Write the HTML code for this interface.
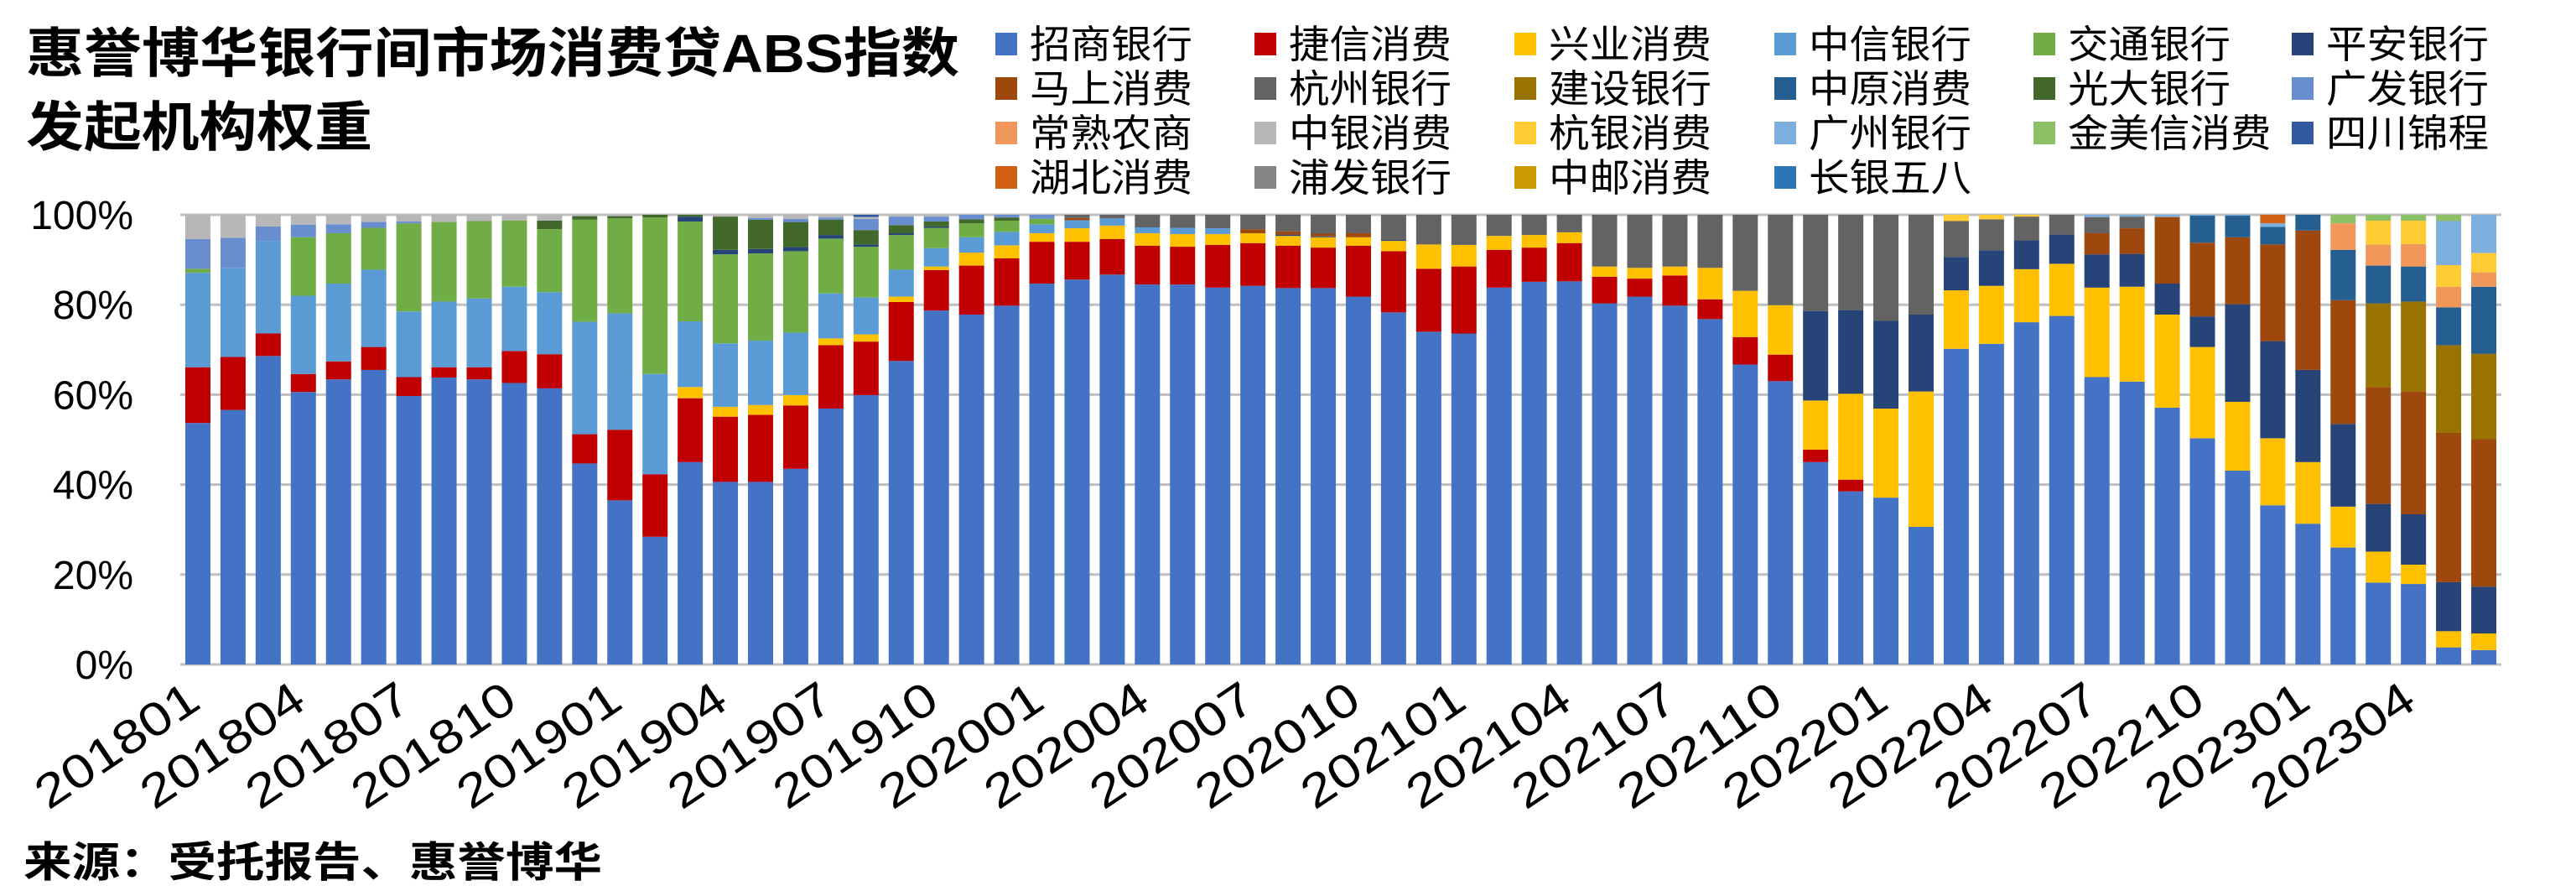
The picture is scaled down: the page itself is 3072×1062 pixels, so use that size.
<!DOCTYPE html>
<html><head><meta charset="utf-8"><style>
html,body{margin:0;padding:0;background:#fff;}
svg{display:block;}
text{font-family:"Liberation Sans","Noto Sans CJK SC",sans-serif;}
</style></head><body>
<svg id="chart" width="3072" height="1062" viewBox="0 0 3072 1062" xmlns="http://www.w3.org/2000/svg">
<rect x="0" y="0" width="3072" height="1062" fill="#fff"/>
<g font-weight="bold" fill="#000">
<text x="31" y="86" font-size="64" textLength="1113" lengthAdjust="spacingAndGlyphs">惠誉博华银行间市场消费贷ABS指数</text>
<text x="31" y="174" font-size="64" textLength="413" lengthAdjust="spacingAndGlyphs">发起机构权重</text>
</g>
<g id="legend"></g>
<g id="grid"></g>
<g id="yaxis"></g>
<g id="bars"></g>
<g id="xaxis"></g>
<text x="28" y="1045" font-size="50" font-weight="bold" textLength="690" lengthAdjust="spacingAndGlyphs">来源：受托报告、惠誉博华</text>
</svg>
<script>
const months = [];
for (let y = 2018; y <= 2023; y++) for (let m = 1; m <= 12; m++) { if (y === 2023 && m > 6) break; months.push(String(y) + String(m).padStart(2, '0')); }
const seriesNames = ["招商银行","捷信消费","兴业消费","中信银行","交通银行","平安银行","马上消费","杭州银行","建设银行","中原消费","光大银行","广发银行","常熟农商","中银消费","杭银消费","广州银行","金美信消费","四川锦程","湖北消费","浦发银行","中邮消费","长银五八"];
const seriesColors = ["#4472C4","#C00000","#FFC000","#5B9BD5","#70AD47","#264478","#9E480E","#636363","#997300","#255E91","#43682B","#698ED0","#F1975A","#B7B7B7","#FFCD33","#7CAFDD","#8CC168","#335AA1","#D26012","#848484","#CC9A00","#2E75B6"];
const yTicks = [0,20,40,60,80,100];
const zs = [53.7,56.6,68.6,60.6,63.4,65.5,59.7,63.8,63.4,62.6, 61.4,44.7,36.5,28.4,45.0,40.6,40.6,43.5,56.9,59.9, 67.5,78.7,77.8,79.8,84.7,85.6,86.7,84.5,84.5,83.8, 84.2,83.7,83.7,81.8,78.3,74.0,73.6,83.8,85.1,85.2, 80.3,81.8,79.8,76.8,66.7,63.0,45.0,38.5,37.1,30.6, 70.2,71.3,76.1,77.5,63.9,62.9,57.1,50.3,43.1,35.4, 31.3,26.0,18.2,17.9,3.8,3.2];
const jx = [12.4,11.8,5.0,4.0,4.0,5.1,4.2,2.3,2.7,7.1, 7.6,6.5,15.7,13.9,14.2,14.5,14.9,14.1,14.1,11.9, 13.1,9.0,10.9,10.5,9.3,8.4,7.9,8.6,8.4,9.5, 9.5,9.4,9.0,11.3,13.6,14.0,14.9,8.4,7.6,8.5, 5.9,4.0,6.7,4.4,6.1,5.9,2.8,2.6,0,0, 0,0,0,0,0,0,0,0,0,0, 0,0,0,0,0,0];
const xy = [0,0,0,0,0,0,0,0,0,0, 0,0,0,0,2.5,2.2,2.2,2.3,1.5,1.6, 1.2,0.8,2.9,2.9,1.9,3.0,3.0,2.8,2.8,2.4, 2.2,2.2,2.3,1.9,2.3,5.4,4.8,3.1,2.8,2.4, 2.3,2.4,2.0,7.0,10.3,11.0,10.9,19.1,19.8,30.1, 13.0,12.9,11.8,11.6,19.9,21.1,20.7,20.3,15.3,14.9, 13.7,9.1,6.9,4.3,3.6,3.7];
const zx = [21.0,19.8,20.6,17.4,17.3,17.2,14.6,14.6,15.3,14.3, 13.8,25.0,25.9,22.3,14.6,14.1,14.3,13.9,10.0,8.2, 6.0,4.1,3.4,3.0,2.0,1.8,1.6,1.3,1.4,1.3, 0,0,0,0,0,0,0,0,0,0, 0,0,0,0,0,0,0,0,0,0, 0,0,0,0,0,0,0,0,0,0, 0,0,0,0,0,0];
const jt = [0.9,0,0,13.0,11.2,9.3,19.6,17.7,17.2,14.7, 14.0,22.7,21.1,34.8,22.2,19.8,19.4,18.1,12.2,11.3, 7.7,4.5,3.1,2.5,1.2,0,0,0,0,0, 0,0,0,0,0,0,0,0,0,0, 0,0,0,0,0,0,0,0,0,0, 0,0,0,0,0,0,0,0,0,0, 0,0,0,0,0,0];
const pa = [0,0,0,0,0,0,0,0,0,0, 0,0,0,0,1.1,1.0,1.0,0.9,0.8,0.5, 0.4,0.3,0,0,0,0,0,0,0,0, 0,0.3,0.2,0,0.2,0,0,0,0,0, 0,0,0,0,0,0,19.9,18.6,19.5,17.1, 7.4,7.9,6.4,6.5,7.4,7.3,6.9,6.8,21.7,21.6, 20.5,18.4,10.6,11.2,10.9,10.4];
const ms = [0,0,0,0,0,0,0,0,0,0, 0,0,0,0,0,0,0,0,0,0, 0,0,0,0,0,0.5,0,0,0,0, 0.9,0.7,0.6,0.9,0,0,0,0,0,0, 0,0,0,0,0,0,0,0,0,0, 0,0,0,0,4.7,5.7,14.8,16.4,14.9,21.5, 31.0,27.5,26.0,27.3,33.2,32.8];
const hz = [0,0,0,0,0,0,0,0,0,0, 0,0,0,0,0,0,0,0,0,0, 0,0,0,0,0,0.7,0.8,2.8,2.9,3.0, 3.2,3.7,4.2,4.1,5.6,6.6,6.7,4.7,4.5,3.9, 11.5,11.8,11.5,11.8,16.9,20.1,21.4,21.2,23.6,22.2, 8.0,6.9,5.3,4.4,3.6,2.6,0,0,0,0, 0,0,0,0,0,0];
const js = [0,0,0,0,0,0,0,0,0,0, 0,0,0,0,0,0,0,0,0,0, 0,0,0,0,0,0,0,0,0,0, 0,0,0,0,0,0,0,0,0,0, 0,0,0,0,0,0,0,0,0,0, 0,0,0,0,0,0,0,0,0,0, 0,0,18.6,20.0,19.5,19.0];
const zyuan = [0,0,0,0,0,0,0,0,0,0, 0,0,0,0,0,0,0,0,0,0, 0,0,0,0,0,0,0,0,0,0, 0,0,0,0,0,0,0,0,0,0, 0,0,0,0,0,0,0,0,0,0, 0,0,0,0,0,0,0,6.0,4.8,3.9, 3.5,11.2,8.4,7.8,8.4,14.9];
const gd = [0,0,0,0,0,0,0,0,0,0, 1.9,0.8,0.5,0.6,0.4,7.4,6.5,5.6,3.4,3.2, 1.8,1.1,0.9,0.7,0,0,0,0,0,0, 0,0,0,0,0,0,0,0,0,0, 0,0,0,0,0,0,0,0,0,0, 0,0,0,0,0,0,0,0,0,0, 0,0,0,0,0,0];
const gf = [6.6,6.7,3.2,2.8,2.0,1.3,0.4,0,0,0, 0,0,0,0,0,0,0.4,0.7,0.5,2.5, 1.9,1.1,1.0,0.6,0.9,0,0,0,0,0, 0,0,0,0,0,0,0,0,0,0, 0,0,0,0,0,0,0,0,0,0, 0,0,0,0,0,0,0,0,0,0, 0,0,0,0,0,0];
const cs = [0,0,0,0,0,0,0,0,0,0, 0,0,0,0,0,0,0,0,0,0, 0,0,0,0,0,0,0,0,0,0, 0,0,0,0,0,0,0,0,0,0, 0,0,0,0,0,0,0,0,0,0, 0,0,0,0,0,0,0,0,0,0, 0,5.9,4.7,5.0,4.6,3.2];
const zy = [5.4,5.1,2.6,2.2,2.1,1.6,1.5,1.6,1.4,1.3, 1.3,0.3,0.3,0,0,0.4,0.7,0.9,0.6,0.4, 0.4,0.4,0,0,0,0,0,0,0,0, 0,0,0,0,0,0,0,0,0,0, 0,0,0,0,0,0,0,0,0,0, 0,0,0,0,0,0,0,0,0,0, 0,0,0,0,0,0];
const hy = [0,0,0,0,0,0,0,0,0,0, 0,0,0,0,0,0,0,0,0,0, 0,0,0,0,0,0,0,0,0,0, 0,0,0,0,0,0,0,0,0,0, 0,0,0,0,0,0,0,0,0,0, 1.4,1.0,0.4,0,0,0,0,0,0,0, 0,0,5.3,5.2,4.8,4.3];
const gz = [0,0,0,0,0,0,0,0,0,0, 0,0,0,0,0,0,0,0,0,0, 0,0,0,0,0,0,0,0,0,0, 0,0,0,0,0,0,0,0,0,0, 0,0,0,0,0,0,0,0,0,0, 0,0,0,0,0.5,0.4,0.5,0.2,0.2,0.8, 0,0,0,0,9.8,8.5];
const jm = [0,0,0,0,0,0,0,0,0,0, 0,0,0,0,0,0,0,0,0,0, 0,0,0,0,0,0,0,0,0,0, 0,0,0,0,0,0,0,0,0,0, 0,0,0,0,0,0,0,0,0,0, 0,0,0,0,0,0,0,0,0,0, 0,1.9,1.3,1.3,1.4,0];
const sc = [0,0,0,0,0,0,0,0,0,0, 0,0,0,0,0,0,0,0,0,0.5, 0,0,0,0,0,0,0,0,0,0, 0,0,0,0,0,0,0,0,0,0, 0,0,0,0,0,0,0,0,0,0, 0,0,0,0,0,0,0,0,0,0, 0,0,0,0,0,0];
const hb = [0,0,0,0,0,0,0,0,0,0, 0,0,0,0,0,0,0,0,0,0, 0,0,0,0,0,0,0,0,0,0, 0,0,0,0,0,0,0,0,0,0, 0,0,0,0,0,0,0,0,0,0, 0,0,0,0,0,0,0,0,0,1.9, 0,0,0,0,0,0];
const pf = months.map(() => 0);
const zyou = months.map(() => 0);
const cy = months.map(() => 0);
const seriesValues = [zs,jx,xy,zx,jt,pa,ms,hz,js,zyuan,gd,gf,cs,zy,hy,gz,jm,sc,hb,pf,zyou,cy];

const NS = "http://www.w3.org/2000/svg";
const plotLeft = 215, plotRight = 2983, yTop = 256, yBottom = 792;
const band = (plotRight - plotLeft) / months.length;
const barW = 30;
function xBand(i) { return plotLeft + i * band; }
function yScale(v) { return yBottom - (v / 100) * (yBottom - yTop); }
function mk(tag, attrs, parent) { const e = document.createElementNS(NS, tag); for (const k in attrs) e.setAttribute(k, attrs[k]); parent.appendChild(e); return e; }

const grid = document.getElementById('grid');
const yaxis = document.getElementById('yaxis');
yTicks.forEach(t => {
  const ln = mk('line', {x1: plotLeft, x2: plotRight, y1: yScale(t), y2: yScale(t), stroke: '#BFBFBF', 'stroke-width': 3}, grid);
  
  
  const tx = mk('text', {x: 159, y: yScale(t) + 17, 'font-size': 48, 'text-anchor': 'end', fill: '#000'}, yaxis);
  
  
  tx.textContent = t + '%';
});

const barsG = document.getElementById('bars');
months.forEach((m, i) => {
  let total = 0;
  seriesValues.forEach(s => { total += s[i]; });
  let cum = 0;
  const g = mk('g', {}, barsG);
  
  
  seriesValues.forEach((s, k) => {
    const v = s[i] / total * 100;
    if (v <= 0) return;
    const y1 = yScale(cum), y2 = yScale(cum + v);
    const r = mk('rect', {x: xBand(i) + (band - barW) / 2, y: y2, width: barW, height: Math.max(0, y1 - y2), fill: seriesColors[k]}, g);
    
    
    cum += v;
  });
});

const xaxis = document.getElementById('xaxis');
months.forEach((m, i) => {
  if (i % 3 !== 0) return;
  const cx = xBand(i) + band / 2 + 6, cy0 = 842;
  const t = mk('text', {x: cx, y: cy0, 'font-size': 56, 'text-anchor': 'end', transform: 'rotate(-34 ' + cx + ' ' + cy0 + ')', textLength: 222, lengthAdjust: 'spacingAndGlyphs'}, xaxis);
  
  
  t.textContent = m;
});

const legend = document.getElementById('legend');
const legendCols = [1187, 1496, 1806, 2116, 2425, 2733];
seriesNames.forEach((n, k) => {
  const col = k % 6, row = Math.floor(k / 6);
  const x = legendCols[col], yc = 52 + row * 53;
  const g = mk('g', {}, legend);
  
  
  const sw = mk('rect', {x: x, y: yc - 13, width: 26, height: 27, fill: seriesColors[k]}, g);
  
  
  const tx = mk('text', {x: x + 41, y: yc + 17, 'font-size': 46, fill: '#000', textLength: n.length * 48.5, lengthAdjust: 'spacingAndGlyphs'}, g);
  
  
  tx.textContent = n;
});
</script>
</body></html>
